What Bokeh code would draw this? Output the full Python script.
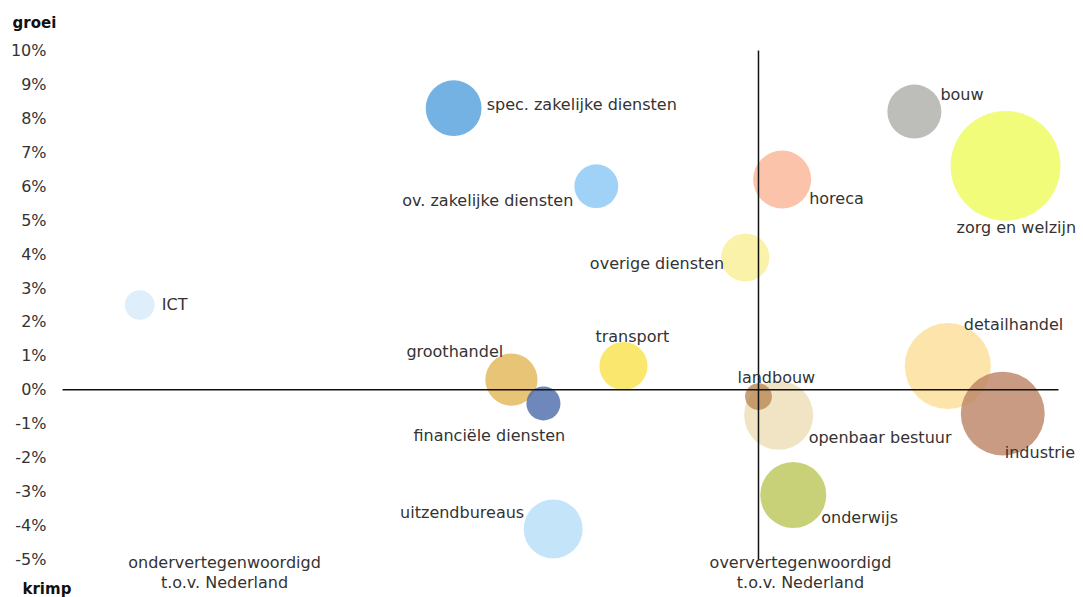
from bokeh.plotting import figure
from bokeh.models import ColumnDataSource, FixedTicker, PrintfTickFormatter, Label
from bokeh.core.properties import value
from bokeh.embed import file_html
from bokeh.resources import INLINE
import math

# ---- data ----
sectoren = ["spec. zakelijke diensten", "ov. zakelijke diensten", "bouw", "zorg en welzijn",
            "horeca", "overige diensten", "ICT", "groothandel", "financiële diensten",
            "transport", "openbaar bestuur", "landbouw", "detailhandel", "industrie",
            "onderwijs", "uitzendbureaus"]
# relatieve omvang t.o.v. Nederland (1 = gelijk aan Nederland)
specialisatie = [0.562, 0.767, 1.224, 1.355, 1.034, 0.981, 0.111, 0.645, 0.691,
                 0.806, 1.029, 1.000, 1.272, 1.351, 1.050, 0.705]
# groei werkgelegenheid (%)
groei = [8.3, 6.0, 8.2, 6.6, 6.2, 3.9, 2.5, 0.3, -0.4,
         0.7, -0.75, -0.2, 0.7, -0.7, -3.1, -4.1]
# omvang werkgelegenheid (index)
omvang = [78, 48, 73, 302, 84, 58, 22, 68, 29, 58, 119, 18, 185, 176, 109, 87]
kleuren = ["#519fdd", "#88c7f6", "#acaca9", "#ecfb59", "#fab595", "#faef95", "#d6eaf9",
           "#e2b554", "#4a6aab", "#f9e24a", "#ecddb5", "#ba8856", "#fcdd95", "#ba8263",
           "#bac456", "#b5ddf9"]
y_ticks = list(range(-5, 11))
kwadranten = ["ondervertegenwoordigd\nt.o.v. Nederland", "oververtegenwoordigd\nt.o.v. Nederland"]

# ---- label layout (screen px offsets from bubble centre) ----
lbl_dx = [33, -23, 26, -49, 27, -21, 22, -105, -130, -28, 30, -21, 16, 2, 28, -29]
lbl_dy = [-4, 14, -17, 62, 19, 6, 0, -28, 32, -30, 22, -19, -42, 39, 23, -16]
lbl_align = ["left", "right", "left", "left", "left", "right", "left", "left", "left",
             "left", "left", "left", "left", "left", "left", "right"]

FONT = "DejaVu Sans"
TXT = "#333333"
FS = "16px"

size = [2 * math.sqrt(v * 10) for v in omvang]
src = ColumnDataSource(dict(x=specialisatie, y=groei, size=size, color=kleuren,
                            name=sectoren, dx=lbl_dx, dy=lbl_dy, align=lbl_align))

p = figure(width=1083, height=597, output_backend="svg", toolbar_location=None,
           x_range=(-0.0891, 1.467), y_range=(-6.121, 11.474),
           min_border_left=0, min_border_right=0, min_border_top=0, min_border_bottom=0)
p.outline_line_color = None
p.xgrid.visible = False
p.ygrid.visible = False
p.xaxis.visible = False

ax = p.yaxis[0]
ax.fixed_location = 0
ax.ticker = FixedTicker(ticks=y_ticks)
ax.formatter = PrintfTickFormatter(format="%d%%")
ax.axis_line_color = None
ax.major_tick_line_color = None
ax.minor_tick_line_color = None
ax.major_tick_out = 0
ax.major_tick_in = 0
ax.major_label_standoff = 16
ax.major_label_text_font = FONT
ax.major_label_text_font_size = FS
ax.major_label_text_color = TXT

p.scatter("x", "y", size="size", fill_color="color", fill_alpha=0.8,
          line_color=None, source=src)

# reference lines: groei = 0 and specialisatie = 1
p.segment(x0=[0, 1.0], y0=[0, y_ticks[0]], x1=[1.431, 1.0], y1=[0, y_ticks[-1]],
          line_color="#111111", line_width=1.5)

p.text("x", "y", text="name", x_offset="dx", y_offset="dy", text_align="align",
       text_baseline="middle", text_font=value(FONT), text_font_size=FS,
       text_color=TXT, source=src)

# quadrant captions
p.text(x=[0.2328, 1.0603], y=[-5.149, -5.149], text=kwadranten, text_align="center",
       text_baseline="top", y_offset=-12, text_line_height=1.1,
       text_font=value(FONT), text_font_size=FS, text_color=TXT)

p.add_layout(Label(x=-0.0718, y=10.825, text="groei", text_font=FONT, text_font_style="bold",
                   text_font_size="15px", text_color="#111111", text_baseline="middle"))
p.add_layout(Label(x=-0.0575, y=-5.856, text="krimp", text_font=FONT, text_font_style="bold",
                   text_font_size="15px", text_color="#111111", text_baseline="middle"))

open("out.html", "w").write(file_html(p, INLINE))
